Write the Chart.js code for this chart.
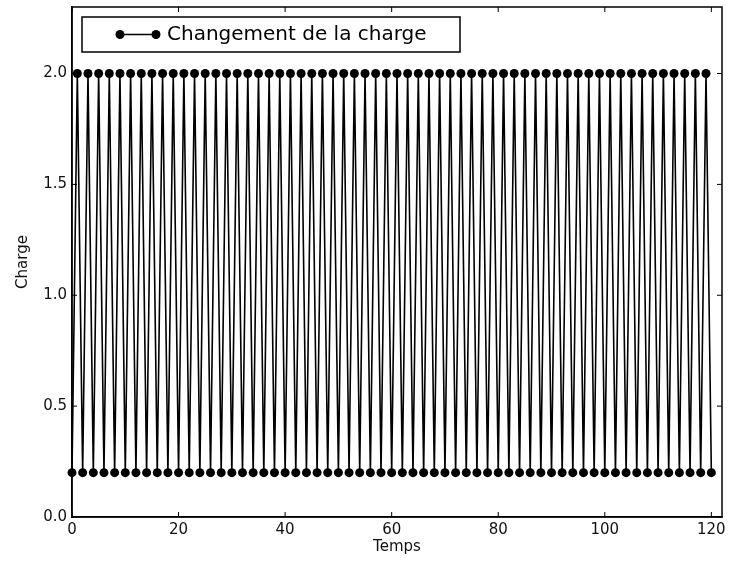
<!DOCTYPE html>
<html>
<head>
<meta charset="utf-8">
<script src="https://cdn.jsdelivr.net/npm/chart.js@4.4.1/dist/chart.umd.min.js"></script>
<style>
  html, body { margin: 0; padding: 0; background: #fff; }
  #chart { display: block; }
</style>
</head>
<body>
<canvas id="chart" width="730" height="564"></canvas>
<script>
/* ===== Data ===== */
const seriesLabel = "Changement de la charge";
const temps = [
  0, 1, 2, 3, 4, 5, 6, 7, 8, 9, 10, 11, 12, 13, 14, 15, 16, 17, 18, 19,
  20, 21, 22, 23, 24, 25, 26, 27, 28, 29, 30, 31, 32, 33, 34, 35, 36, 37, 38, 39,
  40, 41, 42, 43, 44, 45, 46, 47, 48, 49, 50, 51, 52, 53, 54, 55, 56, 57, 58, 59,
  60, 61, 62, 63, 64, 65, 66, 67, 68, 69, 70, 71, 72, 73, 74, 75, 76, 77, 78, 79,
  80, 81, 82, 83, 84, 85, 86, 87, 88, 89, 90, 91, 92, 93, 94, 95, 96, 97, 98, 99,
  100, 101, 102, 103, 104, 105, 106, 107, 108, 109, 110, 111, 112, 113, 114, 115, 116, 117, 118, 119,
  120
];
const charge = [
  0.2, 2.0, 0.2, 2.0, 0.2, 2.0, 0.2, 2.0, 0.2, 2.0, 0.2, 2.0, 0.2, 2.0, 0.2, 2.0, 0.2, 2.0, 0.2, 2.0,
  0.2, 2.0, 0.2, 2.0, 0.2, 2.0, 0.2, 2.0, 0.2, 2.0, 0.2, 2.0, 0.2, 2.0, 0.2, 2.0, 0.2, 2.0, 0.2, 2.0,
  0.2, 2.0, 0.2, 2.0, 0.2, 2.0, 0.2, 2.0, 0.2, 2.0, 0.2, 2.0, 0.2, 2.0, 0.2, 2.0, 0.2, 2.0, 0.2, 2.0,
  0.2, 2.0, 0.2, 2.0, 0.2, 2.0, 0.2, 2.0, 0.2, 2.0, 0.2, 2.0, 0.2, 2.0, 0.2, 2.0, 0.2, 2.0, 0.2, 2.0,
  0.2, 2.0, 0.2, 2.0, 0.2, 2.0, 0.2, 2.0, 0.2, 2.0, 0.2, 2.0, 0.2, 2.0, 0.2, 2.0, 0.2, 2.0, 0.2, 2.0,
  0.2, 2.0, 0.2, 2.0, 0.2, 2.0, 0.2, 2.0, 0.2, 2.0, 0.2, 2.0, 0.2, 2.0, 0.2, 2.0, 0.2, 2.0, 0.2, 2.0,
  0.2
];
const xRange = [0, 122];
const yRange = [0, 2.3];
const xStep = 20;
const yStep = 0.5;

const FONT = "'DejaVu Sans', sans-serif";

/* ===== Frame: top/right spines, inward ticks, legend ===== */
const framePlugin = {
  id: "frame",
  afterDraw(chart) {
    const { ctx, chartArea: a, scales } = chart;
    const tl = 5;
    ctx.save();
    ctx.strokeStyle = "#000";
    ctx.lineWidth = 1.5;
    ctx.strokeRect(a.left, a.top, a.right - a.left, a.bottom - a.top);

    ctx.lineWidth = 1;
    ctx.beginPath();
    scales.x.ticks.forEach(t => {
      const px = scales.x.getPixelForValue(t.value);
      ctx.moveTo(px, a.bottom); ctx.lineTo(px, a.bottom - tl);
      ctx.moveTo(px, a.top); ctx.lineTo(px, a.top + tl);
    });
    scales.y.ticks.forEach(t => {
      const py = scales.y.getPixelForValue(t.value);
      ctx.moveTo(a.left, py); ctx.lineTo(a.left + tl, py);
      ctx.moveTo(a.right, py); ctx.lineTo(a.right - tl, py);
    });
    ctx.stroke();

    // legend
    const bx = 82, by = 17, bw = 378, bh = 35;
    ctx.fillStyle = "#fff";
    ctx.fillRect(bx, by, bw, bh);
    ctx.lineWidth = 1.5;
    ctx.strokeStyle = "#000";
    ctx.strokeRect(bx, by, bw, bh);
    const ly = by + bh / 2;
    ctx.lineWidth = 1.5;
    ctx.beginPath();
    ctx.moveTo(120, ly); ctx.lineTo(156, ly);
    ctx.stroke();
    ctx.fillStyle = "#000";
    [120, 156].forEach(x => {
      ctx.beginPath();
      ctx.arc(x, ly, 4.5, 0, Math.PI * 2);
      ctx.fill();
    });
    ctx.font = "20px " + FONT;
    ctx.textBaseline = "middle";
    ctx.textAlign = "left";
    ctx.fillText(chart.data.datasets[0].label, 167, ly);
    ctx.restore();
  }
};

/* ===== Chart ===== */
new Chart(document.getElementById("chart"), {
  type: "line",
  data: {
    datasets: [{
      label: seriesLabel,
      data: temps.map((t, i) => ({ x: t, y: charge[i] })),
      borderColor: "#000",
      backgroundColor: "#000",
      borderWidth: 1.6,
      pointRadius: 4.5,
      pointHoverRadius: 4.5,
      pointBackgroundColor: "#000",
      pointBorderWidth: 0,
      tension: 0,
      clip: false
    }]
  },
  options: {
    responsive: false,
    animation: false,
    layout: { padding: { top: 7, right: 8, left: 0, bottom: 0 } },
    plugins: { legend: { display: false }, tooltip: { enabled: false } },
    scales: {
      x: {
        type: "linear",
        min: xRange[0],
        max: xRange[1],
        grid: { display: false, drawTicks: false },
        border: { display: true, color: "#000", width: 1.5 },
        ticks: {
          stepSize: xStep,
          includeBounds: false,
          color: "#111",
          padding: 4,
          maxRotation: 0,
          font: { family: FONT, size: 15 }
        },
        title: {
          display: true,
          text: "Temps",
          color: "#111",
          padding: { top: 0, bottom: 8 },
          font: { family: FONT, size: 15 }
        },
        afterFit(s) { s.height = 47; }
      },
      y: {
        min: yRange[0],
        max: yRange[1],
        grid: { display: false, drawTicks: false },
        border: { display: true, color: "#000", width: 1.5 },
        ticks: {
          stepSize: yStep,
          includeBounds: false,
          color: "#111",
          padding: 5,
          font: { family: FONT, size: 15 },
          callback: v => Number(v).toFixed(1)
        },
        title: {
          display: true,
          text: "Charge",
          color: "#111",
          padding: { top: 14, bottom: 0 },
          font: { family: FONT, size: 15 }
        },
        afterFit(s) {
          s.width = 72;
          s.paddingTop = 0;
          s.paddingBottom = 0;
        }
      }
    }
  },
  plugins: [framePlugin]
});
</script>
</body>
</html>
